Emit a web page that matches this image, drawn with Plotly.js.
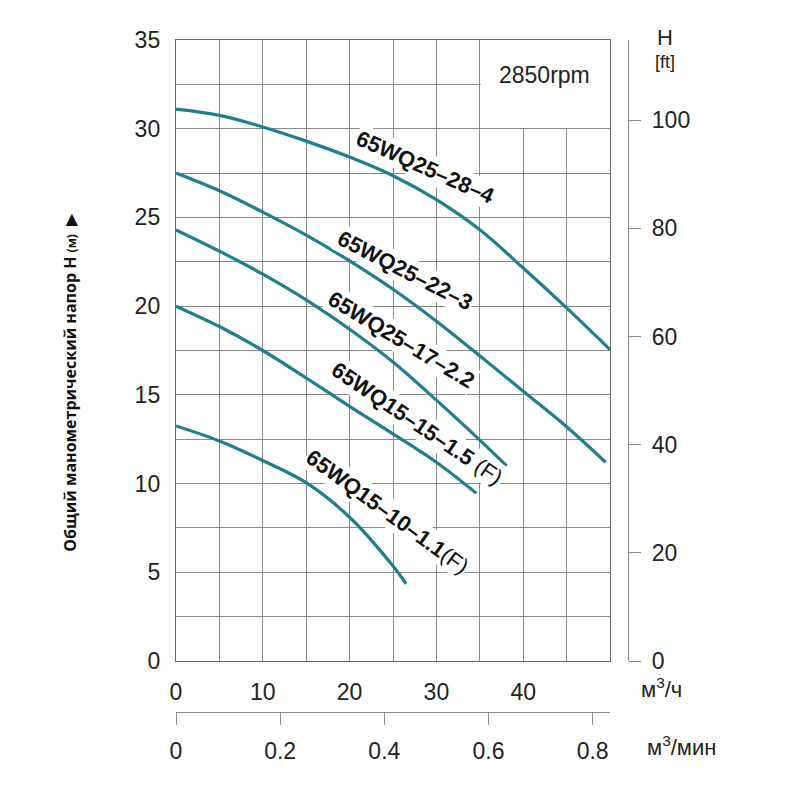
<!DOCTYPE html>
<html>
<head>
<meta charset="utf-8">
<script src="https://cdn.plot.ly/plotly-3.0.1.min.js"></script>
<style>
  html, body { margin: 0; padding: 0; background: #fff; }
  #graph { width: 800px; height: 800px; }
</style>
</head>
<body>
<div id="graph"></div>
<script>
// подача, м3/ч и напор, м
const q28 = [0, 5, 10, 15, 20, 25, 30, 35, 40, 45, 50]
const h28 = [31.1, 30.75, 30.1, 29.3, 28.4, 27.35, 26.0, 24.3, 22.15, 19.9, 17.55]

const q22 = [0, 5, 10, 15, 20, 25, 30, 35, 40, 45, 49.5]
const h22 = [27.5, 26.5, 25.3, 24.0, 22.55, 20.95, 19.15, 17.2, 15.2, 13.2, 11.2]

const q17 = [0, 5, 10, 15, 20, 25, 30, 35, 38.1]
const h17 = [24.3, 23.1, 21.8, 20.35, 18.7, 16.85, 14.7, 12.45, 11.0]

const q15 = [0, 5, 10, 15, 20, 25, 30, 34.6]
const h15 = [20.0, 18.85, 17.5, 15.95, 14.35, 12.8, 11.2, 9.45]

const q10 = [0, 5, 10, 15, 20, 25, 26.5]
const h10 = [13.25, 12.4, 11.3, 10.05, 8.1, 5.35, 4.35]

const modelNames = ["65WQ25–28–4", "65WQ25–22–3", "65WQ25–17–2.2", "65WQ15–15–1.5", "65WQ15–10–1.1"]
const modelSuffix = ["", "", "", " (F)", "(F)"]

const qTicks = [0, 10, 20, 30, 40]
const hTicks = [0, 5, 10, 15, 20, 25, 30, 35]
const ftTicks = [0, 20, 40, 60, 80, 100]
const minTicks = [0, 0.2, 0.4, 0.6, 0.8]

const QMAX = 50
const HMAX = 35
const FT = 0.3048

const teal = "#1f7f8c"
const ink = "#222"
const grid = "#8a8a8a"
const sans = "Liberation Sans, Arial, sans-serif"
const tickFont = { family: sans, size: 23, color: ink }

const curves = [[q28, h28], [q22, h22], [q17, h17], [q15, h15], [q10, h10]]
const traces = curves.map(([q, h], i) => ({
    x: q, y: h,
    type: "scatter", mode: "lines",
    line: { color: teal, width: 3.2, shape: "spline", smoothing: 1 },
    name: modelNames[i],
    hoverinfo: "skip"
}))
// пустые трассы, чтобы появились вторые оси (футы и м3/мин)
traces.push({ x: [], y: [], xaxis: "x", yaxis: "y2", type: "scatter", showlegend: false })
traces.push({ x: [], y: [], xaxis: "x2", yaxis: "y", type: "scatter", showlegend: false })

// где стоят подписи кривых: [x, y, угол]
const labelPos = [
    [28.8, 27.8, 24],
    [26.4, 22.0, 27],
    [25.9, 18.1, 31],
    [27.8, 13.4, 34],
    [24.3, 8.4, 36]
]
const labelFont = { family: sans, size: 22, color: "#111" }

const annotations = modelNames.map((name, i) => ({
    x: labelPos[i][0], y: labelPos[i][1], xref: "x", yref: "y",
    xanchor: "center", yanchor: "middle",
    text: "<b>" + name + "</b>" + modelSuffix[i],
    textangle: labelPos[i][2],
    showarrow: false,
    font: labelFont,
    bgcolor: "#fff",
    borderpad: 1
}))

const note = (x, y, text, size) => ({
    x: x, y: y, xref: "paper", yref: "paper", xanchor: "center", yanchor: "middle",
    text: text, showarrow: false, font: { family: sans, size: size, color: ink }
})

annotations.push(
    { x: 42.45, y: 33.0, xref: "x", yref: "y", xanchor: "center", yanchor: "middle",
      text: "2850rpm", showarrow: false, font: { family: sans, size: 23, color: ink } },
    note(1.082, 1.004, "H", 22),
    note(1.082, 0.968, "[ft]", 18),
    note(1.075, 0.036, "м<sup>3</sup>/ч", 22),
    note(1.118, -0.05, "м<sup>3</sup>/мин", 22),
    { x: -0.2345, y: 0.49, xref: "paper", yref: "paper", xanchor: "center", yanchor: "middle",
      textangle: -90, showarrow: false,
      text: "<b>Общий манометрический напор H <span style='font-size:12px'>(м)</span></b>  ▶",
      font: { family: "Open Sans, Noto Sans, sans-serif", size: 16, color: "#111" } }
)

const layout = {
    width: 800, height: 800,
    margin: { l: 176, r: 172, t: 40, b: 88 },
    paper_bgcolor: "#fff", plot_bgcolor: "#fff",
    showlegend: false,
    xaxis: {
        domain: [0, 434 / 452], range: [0, QMAX],
        tickvals: qTicks, ticks: "", ticklabelstandoff: 10,
        tickfont: tickFont,
        showgrid: true, gridcolor: grid, gridwidth: 1,
        minor: { dtick: 5, tick0: 0, showgrid: true, gridcolor: grid, gridwidth: 1 },
        showline: true, mirror: true, linecolor: "#666", linewidth: 1.2,
        zeroline: false, fixedrange: true
    },
    yaxis: {
        domain: [51 / 672, 1], range: [0, HMAX],
        tickvals: hTicks, ticks: "", ticklabelstandoff: 10,
        tickfont: tickFont,
        showgrid: true, gridcolor: grid, gridwidth: 1,
        minor: { dtick: 2.5, tick0: 0, showgrid: true, gridcolor: grid, gridwidth: 1 },
        showline: true, mirror: true, linecolor: "#666", linewidth: 1.2,
        zeroline: false, fixedrange: true
    },
    yaxis2: {
        overlaying: "y", side: "right", anchor: "free", position: 1,
        range: [0, HMAX / FT],
        tickvals: ftTicks, ticks: "outside", ticklen: 12, tickcolor: "#888",
        ticklabelstandoff: 6, tickfont: tickFont,
        showgrid: false, zeroline: false,
        showline: true, linecolor: "#888", linewidth: 1.2
    },
    xaxis2: {
        overlaying: "x", side: "bottom", anchor: "free", position: 0,
        range: [0, QMAX / 60],
        tickvals: minTicks, ticktext: minTicks.map(String),
        ticks: "outside", ticklen: 12, tickcolor: "#888",
        ticklabelstandoff: 6, tickfont: tickFont,
        showgrid: false, zeroline: false,
        showline: true, linecolor: "#888", linewidth: 1.2
    },
    shapes: [
        // белая плашка под 2850rpm
        { type: "rect", xref: "x", yref: "y", x0: 35.1, x1: 50, y0: 30.05, y1: 35,
          fillcolor: "#fff", line: { width: 0 }, layer: "between" }
    ],
    annotations: annotations
}

Plotly.newPlot("graph", traces, layout, { staticPlot: true })
</script>
</body>
</html>
